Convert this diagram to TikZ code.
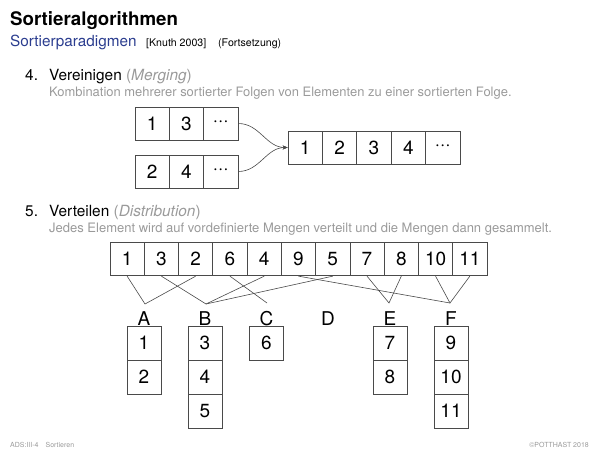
\documentclass[tikz,border=0pt]{standalone}
\usepackage{fontspec}
\setmainfont{TeX Gyre Heros}
\usetikzlibrary{arrows.meta}
\definecolor{titleblue}{HTML}{2B3D8F}
\definecolor{txtgrey}{HTML}{9A9A9A}
\definecolor{boxline}{HTML}{4A4A4A}
\newcommand{\mydots}{\char"00B7\char"00B7\char"00B7}
\tikzset{
  cellbox/.style={draw=boxline, line width=0.7pt, minimum width=34.3pt, minimum height=33.6pt, inner sep=0pt, font=\fontsize{19}{19}\selectfont},
  bucketbox/.style={draw=boxline, line width=0.7pt, minimum width=34pt, minimum height=34pt, inner sep=0pt, font=\fontsize{19}{19}\selectfont},
  letter/.style={inner sep=0pt, font=\fontsize{19}{19}\selectfont},
  conn/.style={draw=boxline, line width=0.6pt},
  txt/.style={inner sep=0pt, anchor=base west}
}
\begin{document}
\begin{tikzpicture}[x=1pt,y=-1pt]
\useasboundingbox (0,0) rectangle (600,450);
% header
\node[txt, font=\fontsize{18.7}{19}\selectfont\bfseries] (title) at (10,25) {Sortieralgorithmen};
\node[txt, font=\fontsize{15.3}{16}\selectfont, text=titleblue] (sub) at (10,46) {Sortierparadigmen};
\node[txt, font=\fontsize{10.6}{11}\selectfont] (knuth) at (146,46) {[Knuth 2003]};
\node[txt, font=\fontsize{10.6}{11}\selectfont] (forts) at (218,46) {(Fortsetzung)};
% item 4
\node[txt, font=\fontsize{15.4}{16}\selectfont] (n4) at (25,80.5) {4.};
\node[txt, font=\fontsize{15.4}{16}\selectfont] (h4) at (49,80.5) {Vereinigen {\color{txtgrey}(\textit{Merging})}};
\node[txt, font=\fontsize{12.95}{13}\selectfont, text=txtgrey] (d4) at (49,96) {Kombination mehrerer sortierter Folgen von Elementen zu einer sortierten Folge.};
% merge boxes
\foreach \t [count=\i] in {1,3,\mydots} {
  \node[cellbox, minimum width=34.3pt, minimum height=33pt] (ta\i) at ({135+34.3*(\i-0.5)},123.5) {\t};
}
\foreach \t [count=\i] in {2,4,\mydots} {
  \node[cellbox, minimum width=34.3pt, minimum height=33pt] (tb\i) at ({135+34.3*(\i-0.5)},171.5) {\t};
}
\foreach \t [count=\i] in {1,2,3,4,\mydots} {
  \node[cellbox, minimum width=34.4pt, minimum height=33pt] (tc\i) at ({288+34.4*(\i-0.5)},147.5) {\t};
}
\draw[conn, -{Stealth[length=5pt,width=4pt]}] (ta3.east) to[out=0,in=180] (tc1.west);
\draw[conn, -{Stealth[length=5pt,width=4pt]}] (tb3.east) to[out=0,in=180] (tc1.west);
% item 5
\node[txt, font=\fontsize{15.4}{16}\selectfont] (n5) at (25,216) {5.};
\node[txt, font=\fontsize{15.4}{16}\selectfont] (h5) at (49,216) {Verteilen {\color{txtgrey}(\textit{Distribution})}};
\node[txt, font=\fontsize{13}{13}\selectfont, text=txtgrey] (d5) at (49,232) {Jedes Element wird auf vordefinierte Mengen verteilt und die Mengen dann gesammelt.};
% distribution row
\foreach \t [count=\i] in {1,3,2,6,4,9,5,7,8,10,11} {
  \node[cellbox] (r\i) at ({110+34.27*(\i-0.5)},259) {\t};
}
% convergence points
\coordinate (pA) at (145,304);
\coordinate (pB) at (206,304);
\coordinate (pC) at (267,303);
\coordinate (pE) at (389,303);
\coordinate (pF) at (450,303);
\draw[conn] (r1.south) -- (pA) -- (r3.south);
\draw[conn] (r2.south) -- (pB) -- (r5.south);
\draw[conn] (pB) -- (r7.south);
\draw[conn] (r4.south) -- (pC);
\draw[conn] (r8.south) -- (pE) -- (r9.south);
\draw[conn] (r6.south) -- (pF);
\draw[conn] (r10.south) -- (pF) -- (r11.south);
% labels
\node[letter] (lA) at (144,318.5) {A};
\node[letter] (lB) at (205,318.5) {B};
\node[letter] (lC) at (266.5,318.5) {C};
\node[letter] (lD) at (328,318.5) {D};
\node[letter] (lE) at (390,318.5) {E};
\node[letter] (lF) at (451,318.5) {F};
% buckets
\node[bucketbox] (a1) at (144,343) {1};
\node[bucketbox] (a2) at (144,377) {2};
\node[bucketbox] (b1) at (205,343) {3};
\node[bucketbox] (b2) at (205,377) {4};
\node[bucketbox] (b3) at (205,411) {5};
\node[bucketbox] (c1) at (266.5,343) {6};
\node[bucketbox] (e1) at (390,343) {7};
\node[bucketbox] (e2) at (390,377) {8};
\node[bucketbox] (f1) at (451,343) {9};
\node[bucketbox] (f2) at (451,377) {10};
\node[bucketbox] (f3) at (451,411) {11};
% footer
\node[txt, font=\fontsize{7}{7}\selectfont, text=txtgrey] (fl) at (10,447.5) {ADS:III-4\quad Sortieren};
\node[inner sep=0pt, anchor=base east, font=\fontsize{7}{7}\selectfont, text=txtgrey] (fr) at (589,447.5) {©POTTHAST 2018};
\end{tikzpicture}
\end{document}
